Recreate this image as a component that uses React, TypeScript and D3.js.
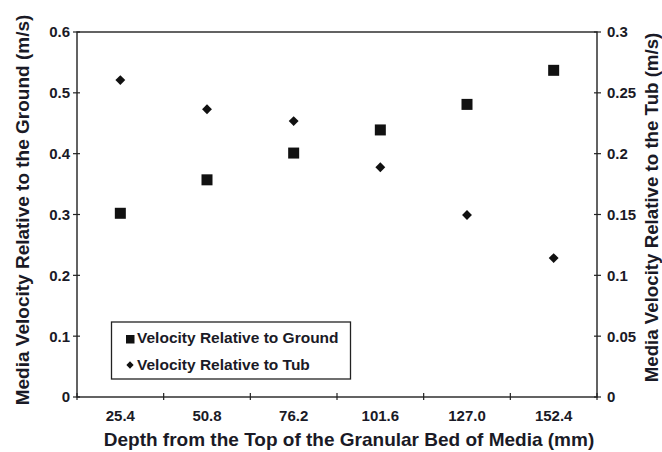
import React from "react";
import * as d3 from "d3";

const depths = ["25.4", "50.8", "76.2", "101.6", "127.0", "152.4"];
const groundVelocity = [0.302, 0.357, 0.401, 0.439, 0.481, 0.537];
const tubVelocity = [0.2605, 0.2365, 0.2268, 0.1888, 0.1496, 0.1142];
const leftTicks = [0, 0.1, 0.2, 0.3, 0.4, 0.5, 0.6];
const rightTicks = [0, 0.05, 0.1, 0.15, 0.2, 0.25, 0.3];
const seriesNames = ["Velocity Relative to Ground", "Velocity Relative to Tub"];

const W = 662;
const H = 452;
const m = { left: 77, right: 597, top: 32, bottom: 397 };
const ink = "#1a1a26";
const font = "Liberation Sans, Arial, sans-serif";

export default function App() {
  const x = d3.scaleBand<string>().domain(depths).range([m.left, m.right]);
  const yL = d3.scaleLinear().domain([0, 0.6]).range([m.bottom, m.top]);
  const yR = d3.scaleLinear().domain([0, 0.3]).range([m.bottom, m.top]);
  const sq = 11;
  const dia = d3.symbol().type(d3.symbolDiamond2).size(62)()!;
  const xBoundaries = d3.range(depths.length + 1).map((i) => m.left + i * x.bandwidth());
  const fmtR = (v: number) => (v === 0 ? "0" : String(v));

  return (
    <svg width={W} height={H} style={{ position: "absolute", left: 0, top: 0, background: "#fff" }}>
      <g fontFamily={font} fontWeight="bold" fill={ink}>
        {/* frame */}
        <rect x={m.left} y={m.top} width={m.right - m.left} height={m.bottom - m.top} fill="none" stroke="#222" strokeWidth={1.4} />
        {/* left axis */}
        {leftTicks.map((t) => (
          <g key={"l" + t}>
            <line x1={m.left - 4} x2={m.left + 3} y1={yL(t)} y2={yL(t)} stroke="#222" strokeWidth={1.2} />
            <text x={m.left - 7} y={yL(t)} dy="0.36em" textAnchor="end" fontSize={15}>{t === 0 ? "0" : t}</text>
          </g>
        ))}
        {/* right axis */}
        {rightTicks.map((t) => (
          <g key={"r" + t}>
            <line x1={m.right - 3} x2={m.right + 4} y1={yR(t)} y2={yR(t)} stroke="#222" strokeWidth={1.2} />
            <text x={m.right + 10} y={yR(t)} dy="0.36em" textAnchor="start" fontSize={15}>{fmtR(t)}</text>
          </g>
        ))}
        {/* bottom axis */}
        {xBoundaries.map((bx, i) => (
          <line key={"b" + i} x1={bx} x2={bx} y1={m.bottom - 4} y2={m.bottom + 3} stroke="#222" strokeWidth={1.2} />
        ))}
        {depths.map((d) => (
          <text key={"x" + d} x={x(d)! + x.bandwidth() / 2} y={421} textAnchor="middle" fontSize={15}>{d}</text>
        ))}
        {/* axis titles */}
        <text x={349} y={446} textAnchor="middle" fontSize={19}>
          Depth from the Top of the Granular Bed of Media (mm)
        </text>
        <text transform={`translate(29,210) rotate(-90)`} textAnchor="middle" fontSize={19}>
          Media Velocity Relative to the Ground (m/s)
        </text>
        <text transform={`translate(658,207.5) rotate(-90)`} textAnchor="middle" fontSize={18.7}>
          Media Velocity Relative to the Tub (m/s)
        </text>
        {/* ground velocity: squares */}
        {groundVelocity.map((v, i) => (
          <rect key={"g" + i} x={x(depths[i])! + x.bandwidth() / 2 - sq / 2} y={yL(v) - sq / 2} width={sq} height={sq} fill="#111" />
        ))}
        {/* tub velocity: diamonds */}
        {tubVelocity.map((v, i) => (
          <path key={"t" + i} d={dia} transform={`translate(${x(depths[i])! + x.bandwidth() / 2},${yR(v)})`} fill="#111" />
        ))}
        {/* legend */}
        <rect x={111.5} y={322} width={239} height={57} fill="#fff" stroke="#222" strokeWidth={1.3} />
        <rect x={126} y={335} width={8.5} height={8.5} fill="#111" />
        <text x={137} y={343} fontSize={15.5}>{seriesNames[0]}</text>
        <path d={d3.symbol().type(d3.symbolDiamond2).size(34)()!} transform="translate(130,365)" fill="#111" />
        <text x={137} y={369.5} fontSize={15.5}>{seriesNames[1]}</text>
      </g>
    </svg>
  );
}
